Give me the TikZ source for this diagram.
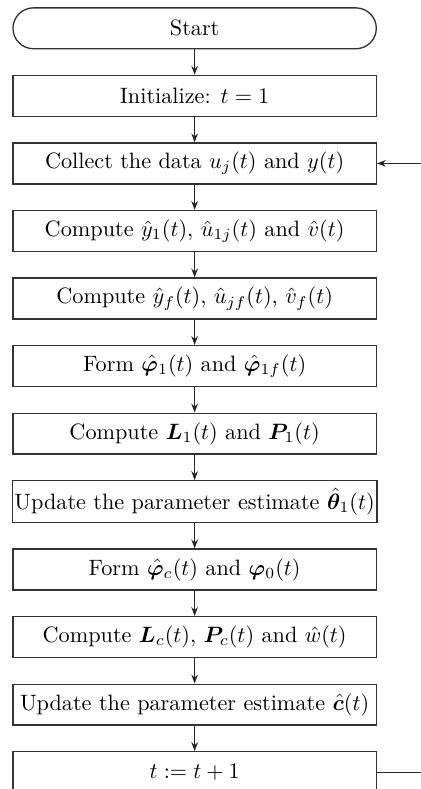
\documentclass[tikz,border=0pt]{standalone}
\usepackage{amsmath}
\usepackage{bm}
\usepackage{tikz}
\usetikzlibrary{positioning,arrows.meta}

\begin{document}
\begin{tikzpicture}[
    node distance=11.4pt,
    every node/.style={font=\normalsize},
    stepbox/.style={draw=black!80, line width=0.6pt, minimum width=163.5pt,
                    minimum height=18.4pt, inner xsep=1pt, align=center},
    startbox/.style={stepbox, rounded corners=9.2pt},
    arrow/.style={-{Stealth[length=4pt,width=3pt]}, line width=0.5pt, black!85},
]
% Frame (the reference is cropped at right and bottom)
\useasboundingbox (-87.59pt,12.74pt) rectangle (101.86pt,-342.32pt);
\clip (-87.59pt,12.74pt) rectangle (101.86pt,-342.32pt);

% Steps
\node[startbox] (start) at (0,0) {Start};
\node[stepbox, below=of start] (init) {Initialize: $t=1$};
\node[stepbox, below=of init] (collect)
    {Collect the data $u_j(t)$ and $y(t)$};
\node[stepbox, below=of collect] (yhat)
    {Compute $\hat{y}_1(t)$, $\hat{u}_{1j}(t)$ and $\hat{v}(t)$};
\node[stepbox, below=of yhat] (filt)
    {Compute $\hat{y}_f(t)$, $\hat{u}_{jf}(t)$, $\hat{v}_f(t)$};
\node[stepbox, below=of filt] (form1)
    {Form $\hat{\bm{\varphi}}_1(t)$ and $\hat{\bm{\varphi}}_{1f}(t)$};
\node[stepbox, below=of form1] (gain1)
    {Compute $\bm{L}_1(t)$ and $\bm{P}_1(t)$};
\node[stepbox, below=of gain1] (upd1)
    {Update the parameter estimate $\hat{\bm{\theta}}_1(t)$};
\node[stepbox, below=of upd1] (formc)
    {Form $\hat{\bm{\varphi}}_c(t)$ and $\bm{\varphi}_0(t)$};
\node[stepbox, below=of formc] (gainc)
    {Compute $\bm{L}_c(t)$, $\bm{P}_c(t)$ and $\hat{w}(t)$};
\node[stepbox, below=of gainc] (updc)
    {Update the parameter estimate $\hat{\bm{c}}(t)$};
\node[stepbox, below=of updc] (inc) {$t:=t+1$};

% Arrows
\draw[arrow] (start) -- (init);
\draw[arrow] (init) -- (collect);
\draw[arrow] (collect) -- (yhat);
\draw[arrow] (yhat) -- (filt);
\draw[arrow] (filt) -- (form1);
\draw[arrow] (form1) -- (gain1);
\draw[arrow] (gain1) -- (upd1);
\draw[arrow] (upd1) -- (formc);
\draw[arrow] (formc) -- (gainc);
\draw[arrow] (gainc) -- (updc);
\draw[arrow] (updc) -- (inc);

% Loop back
\draw[arrow] (inc.east) -- ++(30pt,0) |- (collect.east);
\end{tikzpicture}
\end{document}
